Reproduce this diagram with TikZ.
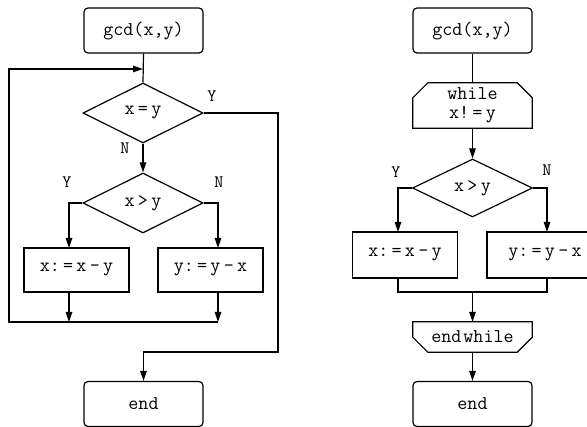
\documentclass[tikz,border=0pt]{standalone}
\usepackage{fontspec}
\usetikzlibrary{shapes.geometric,arrows.meta}
\begin{document}
\begin{tikzpicture}[x=1pt,y=-1pt,
  every node/.style={font=\ttfamily\fontsize{19.5}{22}\selectfont, inner sep=0pt},
  line/.style={line width=1.2pt, line join=miter},
  arrow/.style={line width=1.2pt, -{Triangle[length=10pt,width=6.5pt]}},
  term/.style={draw, line width=1.2pt, rounded corners=4pt, minimum width=119pt, minimum height=45pt},
  proc/.style={draw, line width=1.2pt, minimum width=105pt, minimum height=44pt},
  dec/.style={draw, line width=1.2pt, diamond, aspect=2, minimum width=120pt, minimum height=60pt},
  loopbox/.style={minimum width=119pt, minimum height=45pt},
  lbl/.style={font=\ttfamily\fontsize{17.5}{20}\selectfont}]
\useasboundingbox (0,0) rectangle (587,427);

% ---------- left flowchart ----------
\node[term] (g1) at (143.5,30.5) {gcd(x,y)};
\node[dec] (d1) at (143,113) {x\,=\,y};
\node[dec] (d2) at (143,203) {x\,>\,y};
\node[proc] (b1) at (76.5,270) {x:\,=\,x\,-\,y};
\node[proc] (b2) at (210.5,270) {y:\,=\,y\,-\,x};
\node[term] (e1) at (143.5,404) {end};

\node[lbl] (ly1) at (212,96) {Y};
\node[lbl] (ln1) at (125,148) {N};
\node[lbl] (ly2) at (67,182) {Y};
\node[lbl] (ln2) at (219,182) {N};

\coordinate (in1) at (69,248);
\coordinate (in2) at (218,248);
\coordinate (j1) at (69,322);
\coordinate (j2) at (218,322);
\coordinate (lc) at (9,322);
\coordinate (lt) at (143,69);
\coordinate (rc) at (278,352);

\draw[line] (g1.south) -- (d1.north);
\draw[arrow] (d1.south) -- (d2.north);
\draw[arrow] (d2.west) -| (in1);
\draw[arrow] (d2.east) -| (in2);
\draw[arrow] (in1 |- b1.south) -- (j1);
\draw[arrow] (in2 |- b2.south) -- (j2);
\draw[arrow] (j2) -- (lc) |- (lt);
\draw[arrow] (d1.east) -| (rc) -| (e1.north);

% ---------- right flowchart ----------
\node[term] (g2) at (472.5,30.5) {gcd(x,y)};
\node[loopbox, align=center, font=\ttfamily\fontsize{19.5}{19}\selectfont] (w) at (472.5,105.5) {while\\x!\,=\,y};
\draw[line] ([xshift=15pt]w.north west) -- ([xshift=-15pt]w.north east)
  -- ([yshift=-15pt]w.north east) -- (w.south east) -- (w.south west)
  -- ([yshift=-15pt]w.north west) -- cycle;
\node[dec, minimum height=58pt] (d3) at (472.5,188) {x\,>\,y};
\node[proc, minimum height=46pt] (b3) at (405,255) {x:\,=\,x\,-\,y};
\node[proc, minimum width=116pt, minimum height=46pt] (b4) at (545,255) {y:\,=\,y\,-\,x};
\node[minimum width=119pt, minimum height=30pt] (ew) at (472.5,337) {end\hspace{2pt}while};
\draw[line] (ew.north west) -- (ew.north east) -- ([yshift=15pt]ew.south east)
  -- ([xshift=-15pt]ew.south east) -- ([xshift=15pt]ew.south west)
  -- ([yshift=15pt]ew.south west) -- cycle;
\node[term] (e2) at (472.5,404) {end};

\node[lbl] (ly3) at (396,172) {Y};
\node[lbl] (ln3) at (547,170) {N};

\coordinate (in3) at (398,232);
\coordinate (in4) at (547,232);
\coordinate (m3) at (398,292);
\coordinate (m4) at (547,292);
\coordinate (mc) at (472.5,292);

\draw[line] (g2.south) -- (w.north);
\draw[arrow] (w.south) -- (d3.north);
\draw[arrow] (d3.west) -| (in3);
\draw[arrow] (d3.east) -| (in4);
\draw[line] (in3 |- b3.south) -- (m3) -- (m4) -- (in4 |- b4.south);
\draw[arrow] (mc) -- (ew.north);
\draw[arrow] (ew.south) -- (e2.north);
\end{tikzpicture}
\end{document}
